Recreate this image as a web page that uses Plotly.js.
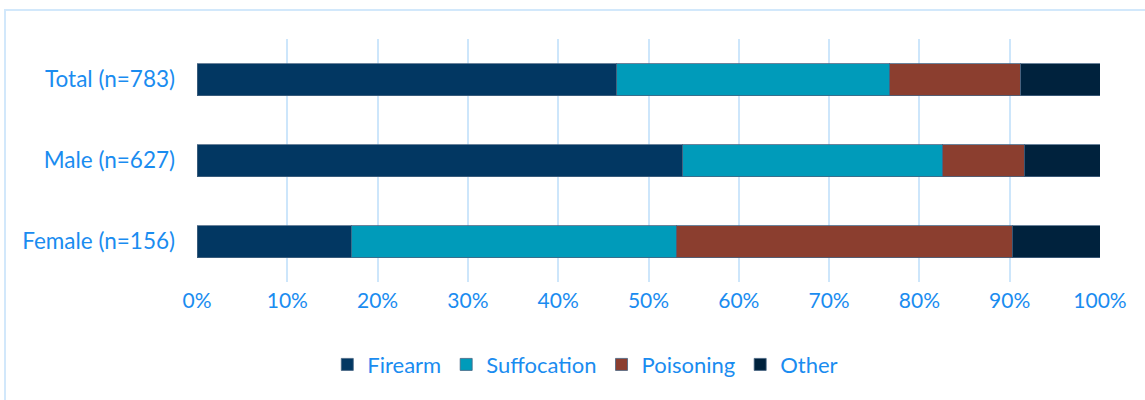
<!DOCTYPE html>
<html>
<head>
<meta charset="utf-8">
<script src="https://cdn.plot.ly/plotly-3.0.1.min.js"></script>
<style>
  html, body { margin: 0; padding: 0; background: #fff; }
  #frame { position: absolute; left: 4px; top: 9px; width: 1160px; height: 420px; border: 2px solid #d2e8fb; box-sizing: border-box; }
  #chart { position: absolute; left: 0; top: 0; width: 1145px; height: 400px; }
</style>
</head>
<body>
<div id="frame"></div>
<div id="chart"></div>
<script>
const categories = ["Female (n=156)", "Male (n=627)", "Total (n=783)"];
const firearm     = [17.1, 53.8, 46.5];
const suffocation = [36.0, 28.8, 30.2];
const poisoning   = [37.2, 9.0, 14.5];
const other       = [9.7, 8.4, 8.8];
const tickVals = [0, 10, 20, 30, 40, 50, 60, 70, 80, 90, 100];
const tickText = ["0%", "10%", "20%", "30%", "40%", "50%", "60%", "70%", "80%", "90%", "100%"];

const seriesNames = ["Firearm", "Suffocation", "Poisoning", "Other"];
const seriesValues = [firearm, suffocation, poisoning, other];
const seriesColors = ["#023762", "#009bba", "#8b3e2f", "#00223d"];

const traces = seriesNames.map((name, i) => ({
  type: "bar",
  orientation: "h",
  name: name,
  y: categories,
  x: seriesValues[i],
  marker: { color: seriesColors[i], line: { color: "rgba(70,100,130,0.8)", width: 1 } },
  hoverinfo: "skip"
}));

const fontFam = "Lato, 'Open Sans', sans-serif";
const layout = {
  width: 1145, height: 400,
  margin: { l: 197, r: 45, t: 39, b: 118 },
  paper_bgcolor: "rgba(0,0,0,0)",
  plot_bgcolor: "rgba(0,0,0,0)",
  barmode: "stack",
  bargap: 0.605,
  font: { family: fontFam, size: 21, color: "#1a8cf0" },
  xaxis: {
    range: [0, 100],
    tickvals: tickVals,
    ticktext: tickText,
    showgrid: true,
    gridcolor: "#cde6fb",
    gridwidth: 2,
    zeroline: false,
    showline: false,
    ticks: "",
    ticklen: 0,
    ticklabelstandoff: 4,
    tickfont: { family: fontFam, size: 21, color: "#1a8cf0" },
    fixedrange: true
  },
  yaxis: {
    showgrid: false,
    zeroline: false,
    showline: false,
    ticks: "",
    ticklabelstandoff: 21,
    tickfont: { family: fontFam, size: 22.5, color: "#1a8cf0" },
    fixedrange: true
  },
  showlegend: true,
  legend: {
    orientation: "h",
    x: 0.43, xanchor: "center",
    y: -0.34, yanchor: "middle",
    traceorder: "normal",
    font: { family: fontFam, size: 22, color: "#1a8cf0" },
    itemwidth: 30
  }
};

Plotly.newPlot("chart", traces, layout, { displayModeBar: false, staticPlot: true });
</script>
</body>
</html>
